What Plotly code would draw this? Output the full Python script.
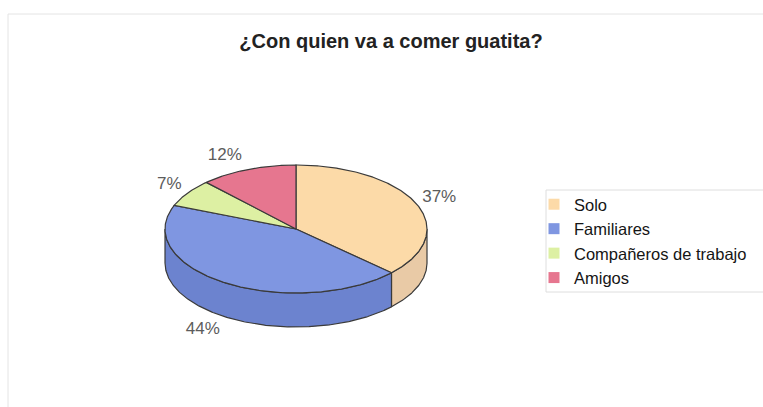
import math
import plotly.graph_objects as go

# Survey answers: who people go to eat "guatita" with
categories = ["Solo", "Familiares", "Compañeros de trabajo", "Amigos"]
shares = [37, 44, 7, 12]
top_colors = ["#FCDAA8", "#7F96E1", "#DDF0A3", "#E6768F"]
side_colors = ["#E9CAA6", "#6C83CF", "#C4D88C", "#CC6A80"]
title_text = "¿Con quien va a comer guatita?"

W, H = 763, 407
# Ellipse geometry of the tilted pie (in pixel units of the hidden axes)
CX, CY = 296, 229
RX, RY = 131, 64
DEPTH = 34
EDGE = "#3a3a3a"
LABEL_SIZE = 17
FONT = "Liberation Sans, Arial, sans-serif"


def rim(theta_deg, drop=0.0, pad=0.0):
    t = math.radians(theta_deg)
    return CX + (RX + pad) * math.sin(t), CY - (RY + pad) * math.cos(t) + drop


def arc(a0, a1, drop=0.0):
    n = max(2, int(abs(a1 - a0) * 2) + 1)
    return [rim(a0 + (a1 - a0) * i / (n - 1), drop) for i in range(n)]


total = float(sum(shares))
bounds = []
start = 0.0
for v in shares:
    end = start + 360.0 * v / total
    bounds.append((start, end))
    start = end

fig = go.Figure()

# Visible front walls (between 90 and 270 degrees, clockwise from 12 o'clock)
for (a0, a1), col in zip(bounds, side_colors):
    s, e = max(a0, 90.0), min(a1, 270.0)
    if s >= e:
        continue
    pts = arc(s, e) + arc(e, s, DEPTH)
    pts.append(pts[0])
    fig.add_trace(go.Scatter(
        x=[p[0] for p in pts], y=[p[1] for p in pts],
        mode="lines", fill="toself", fillcolor=col,
        line=dict(color=EDGE, width=1.2), hoverinfo="skip", showlegend=False,
    ))

# Top faces of the slices
for (a0, a1), col, name in zip(bounds, top_colors, categories):
    pts = [(CX, CY)] + arc(a0, a1) + [(CX, CY)]
    fig.add_trace(go.Scatter(
        x=[p[0] for p in pts], y=[p[1] for p in pts],
        mode="lines", fill="toself", fillcolor=col,
        line=dict(color=EDGE, width=1.2), name=name, legendgroup=name,
        hoverinfo="name", showlegend=False,
    ))

# Percentage labels just outside each slice, centred on their own box
lx, ly, lt = [], [], []
for (a0, a1), v in zip(bounds, shares):
    mid = (a0 + a1) / 2.0
    t = math.radians(mid)
    drop = DEPTH if math.cos(t) < 0 else 0.0
    x, y = rim(mid, drop)
    txt = f"{round(100 * v / total)}%"
    half_w = 0.5 * LABEL_SIZE * (0.556 * (len(txt) - 1) + 0.889)
    side = 1 if math.sin(t) >= 0 else -1
    lx.append(x + side * (6 + half_w))
    ly.append(y - math.cos(t) * 15)
    lt.append(txt)
fig.add_trace(go.Scatter(
    x=lx, y=ly, text=lt, mode="text", textposition="middle center",
    textfont=dict(family=FONT, size=LABEL_SIZE, color="#5c5c5c"),
    hoverinfo="skip", showlegend=False,
))

# Legend swatches
for name, col in zip(categories, top_colors):
    fig.add_trace(go.Scatter(
        x=[None], y=[None], mode="markers", name=name, legendgroup=name,
        marker=dict(symbol="square", size=11, color=col),
    ))

fig.update_layout(
    width=W, height=H,
    margin=dict(l=0, r=0, t=0, b=0),
    paper_bgcolor="white", plot_bgcolor="white",
    title=dict(
        text=f"<b>{title_text}</b>", x=391 / W, xanchor="center",
        y=1 - 41 / H, yanchor="middle",
        font=dict(family=FONT, size=20, color="#222222"),
    ),
    legend=dict(
        x=534 / W, y=1 - 187 / H, xanchor="left", yanchor="top",
        bgcolor="rgba(255,255,255,0)", borderwidth=0,
        font=dict(family=FONT, size=16.5, color="#151515"),
        itemwidth=30, tracegroupgap=0,
    ),
    shapes=[
        # outer chart frame
        dict(type="rect", xref="paper", yref="paper",
             x0=8 / W, y0=-0.1, x1=1.1, y1=1 - 14 / H,
             line=dict(color="#e4e4e4", width=1)),
        # legend frame
        dict(type="rect", xref="paper", yref="paper",
             x0=546 / W, y0=1 - 292 / H, x1=1.1, y1=1 - 190 / H,
             line=dict(color="#dedede", width=1)),
    ],
    showlegend=True,
)
fig.update_xaxes(range=[0, W], visible=False, fixedrange=True)
fig.update_yaxes(range=[H, 0], visible=False, fixedrange=True)

fig.write_html("out.html")
